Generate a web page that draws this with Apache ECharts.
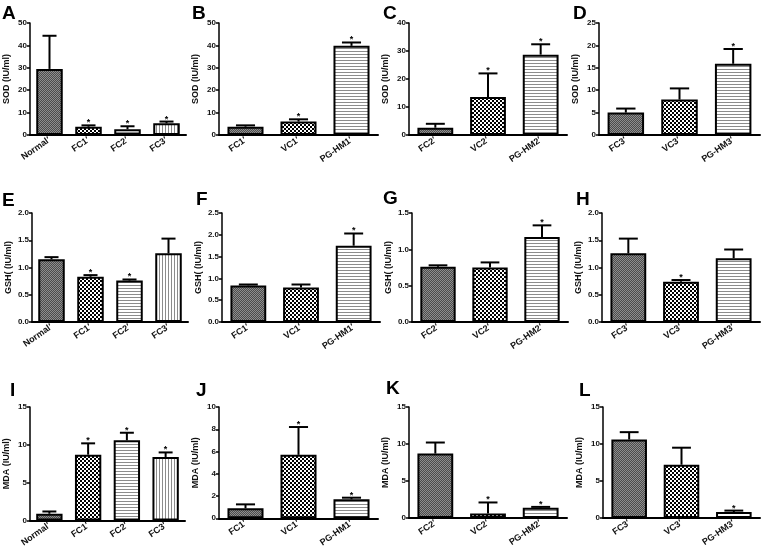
<!DOCTYPE html>
<html><head><meta charset="utf-8">
<script src="https://cdn.jsdelivr.net/npm/echarts@6/dist/echarts.min.js"></script>
<style>html,body{margin:0;padding:0;background:#fff}#c{width:764px;height:549px}</style>
</head><body><div id="c"></div>
<script>
// ---- data ----
const catsA = ['Normal′','FC1′','FC2′','FC3′'];
const valsA = [29.5, 3.7, 2.6, 5.2];
const errA  = [14.8, 0.6, 1.3, 0.8];
const starA = [0, 1, 1, 1];

const catsB = ['FC1′','VC1′','PG-HM1′'];
const valsB = [3.7, 6.0, 39.8];
const errB  = [0.6, 1.0, 1.5];
const starB = [0, 1, 1];

const catsC = ['FC2′','VC2′','PG-HM2′'];
const valsC = [2.6, 13.6, 28.7];
const errC  = [1.4, 8.4, 3.7];
const starC = [0, 1, 1];

const catsD = ['FC3′','VC3′','PG-HM3′'];
const valsD = [5.0, 7.9, 15.9];
const errD  = [0.9, 2.5, 3.3];
const starD = [0, 0, 1];

const catsE = ['Normal′','FC1′','FC2′','FC3′'];
const valsE = [1.15, 0.83, 0.76, 1.26];
const errE  = [0.04, 0.03, 0.02, 0.27];
const starE = [0, 1, 1, 0];

const catsF = ['FC1′','VC1′','PG-HM1′'];
const valsF = [0.84, 0.79, 1.75];
const errF  = [0.02, 0.07, 0.28];
const starF = [0, 0, 1];

const catsG = ['FC2′','VC2′','PG-HM2′'];
const valsG = [0.76, 0.75, 1.17];
const errG  = [0.02, 0.07, 0.16];
const starG = [0, 0, 1];

const catsH = ['FC3′','VC3′','PG-HM3′'];
const valsH = [1.26, 0.74, 1.17];
const errH  = [0.27, 0.03, 0.16];
const starH = [0, 1, 0];

const catsI = ['Normal′','FC1′','FC2′','FC3′'];
const valsI = [0.9, 8.7, 10.6, 8.4];
const errI  = [0.3, 1.5, 1.0, 0.6];
const starI = [0, 1, 1, 1];

const catsJ = ['FC1′','VC1′','PG-HM1′'];
const valsJ = [0.9, 5.7, 1.7];
const errJ  = [0.35, 2.5, 0.15];
const starJ = [0, 1, 1];

const catsK = ['FC2′','VC2′','PG-HM2′'];
const valsK = [8.7, 0.6, 1.4];
const errK  = [1.5, 1.5, 0.1];
const starK = [0, 1, 1];

const catsL = ['FC3′','VC3′','PG-HM3′'];
const valsL = [10.6, 7.2, 0.8];
const errL  = [1.0, 2.3, 0.2];
const starL = [0, 0, 1];

// y-axis ranges (min 0, max, interval)
const yMax  = {A:50,B:50,C:40,D:25,E:2.0,F:2.5,G:1.5,H:2.0,I:15,J:10,K:15,L:15};
const yStep = {A:10,B:10,C:10,D:5,E:0.5,F:0.5,G:0.5,H:0.5,I:5,J:2,K:5,L:5};
const yNames = {A:'SOD (IU/ml)',B:'SOD (IU/ml)',C:'SOD (IU/ml)',D:'SOD (IU/ml)',
  E:'GSH( (IU/ml)',F:'GSH( (IU/ml)',G:'GSH( (IU/ml)',H:'GSH( (IU/ml)',
  I:'MDA (IU/ml)',J:'MDA (IU/ml)',K:'MDA (IU/ml)',L:'MDA (IU/ml)'};

// ---- patterns ----
function mk(w,h,draw){const c=document.createElement('canvas');c.width=w;c.height=h;const g=c.getContext('2d');draw(g);return {image:c,repeat:'repeat'};}
const PAT = {
  dark: mk(2,2,g=>{g.fillStyle='#4c4c4c';g.fillRect(0,0,2,2);g.fillStyle='#8e8e8e';g.fillRect(0,0,1,1);g.fillRect(1,1,1,1);}),
  check: mk(4,4,g=>{g.fillStyle='#fff';g.fillRect(0,0,4,4);g.fillStyle='#000';g.fillRect(0,0,2,2);g.fillRect(2,2,2,2);}),
  hline: mk(3,3,g=>{g.fillStyle='#fff';g.fillRect(0,0,3,3);g.fillStyle='#8c8c8c';g.fillRect(0,0,3,1);}),
  vline: mk(3,3,g=>{g.fillStyle='#fff';g.fillRect(0,0,3,3);g.fillStyle='#8c8c8c';g.fillRect(0,0,1,3);})
};
const pats4 = ['dark','check','hline','vline'];
const pats3 = ['dark','check','hline'];

const panels = [
  {k:'A',cats:catsA,vals:valsA,err:errA,star:starA,pats:pats4, g:{left:30,top:23,width:156,height:112}, lx:2,ly:4},
  {k:'B',cats:catsB,vals:valsB,err:errB,star:starB,pats:pats3, g:{left:219,top:23,width:159,height:112}, lx:192,ly:4},
  {k:'C',cats:catsC,vals:valsC,err:errC,star:starC,pats:pats3, g:{left:409,top:23,width:158,height:112}, lx:383,ly:4},
  {k:'D',cats:catsD,vals:valsD,err:errD,star:starD,pats:pats3, g:{left:599,top:23,width:161,height:112}, lx:573,ly:4},
  {k:'E',cats:catsE,vals:valsE,err:errE,star:starE,pats:pats4, g:{left:32,top:213,width:156,height:109}, lx:2,ly:191},
  {k:'F',cats:catsF,vals:valsF,err:errF,star:starF,pats:pats3, g:{left:222,top:213,width:158,height:109}, lx:196,ly:190},
  {k:'G',cats:catsG,vals:valsG,err:errG,star:starG,pats:pats3, g:{left:412,top:213,width:156,height:109}, lx:383,ly:189},
  {k:'H',cats:catsH,vals:valsH,err:errH,star:starH,pats:pats3, g:{left:602,top:213,width:158,height:109}, lx:576,ly:190},
  {k:'I',cats:catsI,vals:valsI,err:errI,star:starI,pats:pats4, g:{left:30,top:407,width:155,height:114}, lx:10,ly:381},
  {k:'J',cats:catsJ,vals:valsJ,err:errJ,star:starJ,pats:pats3, g:{left:219,top:407,width:159,height:114}, lx:196,ly:381},
  {k:'K',cats:catsK,vals:valsK,err:errK,star:starK,pats:pats3, g:{left:409,top:407,width:158,height:111}, lx:386,ly:379},
  {k:'L',cats:catsL,vals:valsL,err:errL,star:starL,pats:pats3, g:{left:603,top:407,width:157,height:111}, lx:579,ly:381}
];

const FONT = '"Liberation Sans", Arial, sans-serif';

function errRender(params, api){
  const x = api.value(0), m = api.value(1), e = api.value(2), s = api.value(3);
  const p0 = api.coord([x, m]);
  const p1 = api.coord([x, m + e]);
  const bw = api.size([1, 0])[0];
  const hw = bw * 0.18;
  const ch = [
    {type:'line', shape:{x1:p0[0],y1:p0[1],x2:p1[0],y2:p1[1]}, style:{stroke:'#000',lineWidth:2}},
    {type:'line', shape:{x1:p1[0]-hw,y1:p1[1],x2:p1[0]+hw,y2:p1[1]}, style:{stroke:'#000',lineWidth:2}}
  ];
  if (s) ch.push({type:'text', style:{text:'*', x:p1[0], y:p1[1]+2, align:'center', verticalAlign:'bottom', font:'bold 9px ' + FONT, fill:'#000'}});
  return {type:'group', children: ch};
}

const grid=[], xAxis=[], yAxis=[], series=[], graphic=[];
panels.forEach((p, i) => {
  grid.push(Object.assign({containLabel:false}, p.g));
  xAxis.push({type:'category', gridIndex:i, data:p.cats,
    axisLine:{lineStyle:{color:'#000',width:2}}, axisTick:{show:false},
    axisLabel:{interval:0, rotate:35, margin:4, color:'#111', fontWeight:'bold', fontSize:9, fontFamily:FONT}});
  yAxis.push({type:'value', gridIndex:i, min:0, max:yMax[p.k], interval:yStep[p.k],
    name:yNames[p.k], nameLocation:'middle', nameRotate:90, nameGap:19,
    nameTextStyle:{color:'#111', fontWeight:'bold', fontSize:9, fontFamily:FONT},
    axisLine:{show:true, lineStyle:{color:'#000',width:1.5}},
    axisTick:{show:true, length:3, lineStyle:{color:'#000',width:1.5}},
    splitLine:{show:false},
    axisLabel:{margin:3, color:'#111', fontWeight:'bold', fontSize:8, fontFamily:FONT,
      formatter: v => (yStep[p.k] < 1 ? v.toFixed(1) : String(v))}});
  series.push({type:'bar', xAxisIndex:i, yAxisIndex:i, barWidth:'68%',
    data:p.vals.map((v, j) => ({value:v, itemStyle:{color:PAT[p.pats[j]], borderColor:'#000', borderWidth:2}})),
    silent:true});
  series.push({type:'custom', xAxisIndex:i, yAxisIndex:i, renderItem:errRender, z:5, silent:true,
    data:p.vals.map((v, j) => [j, v, p.err[j], p.star[j]])});
  graphic.push({type:'text', left:p.lx, top:p.ly, style:{text:p.k, font:'bold 19px ' + FONT, fill:'#000'}});
});

const chart = echarts.init(document.getElementById('c'), null, {renderer:'canvas'});
chart.setOption({animation:false, backgroundColor:'#fff', grid, xAxis, yAxis, series, graphic});
</script>
</body></html>
